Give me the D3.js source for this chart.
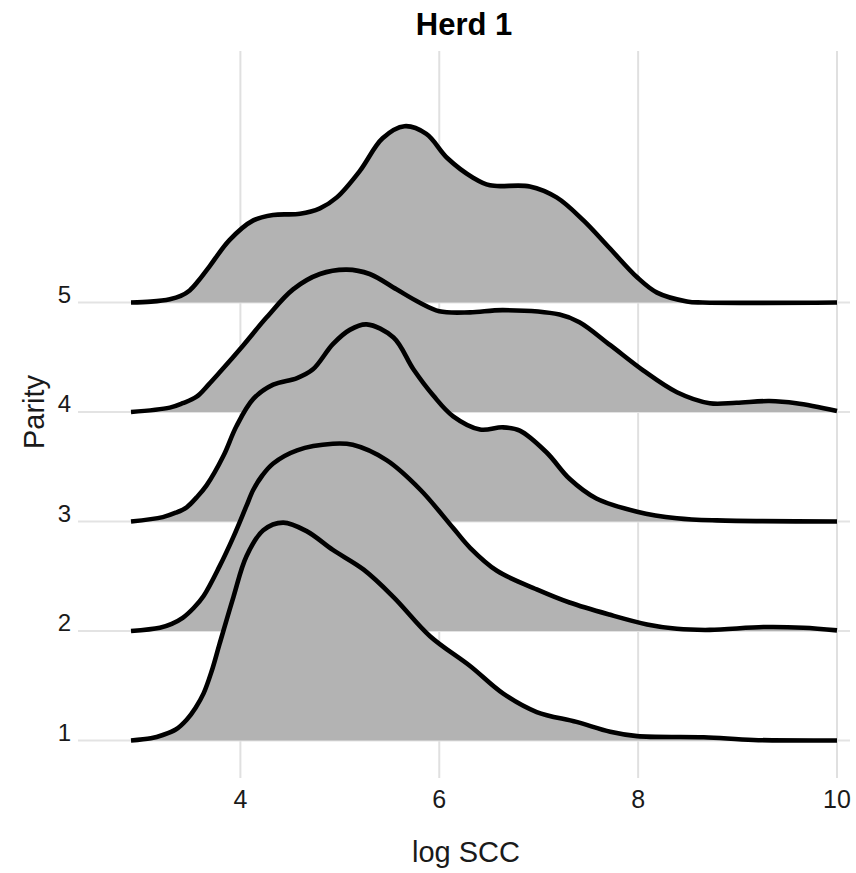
<!DOCTYPE html>
<html>
<head>
  <meta charset="utf-8">
  <title>Herd 1</title>
  <style>
    body { margin: 0; background: #fff; }
    text { font-family: "Liberation Sans", Arial, sans-serif; }
  </style>
</head>
<body>
  <svg id="chart"></svg>

  <script src="https://d3js.org/d3.v7.min.js"></script>
  <script>
    // dữ liệu: log SCC và chiều cao mật độ (đơn vị = khoảng cách giữa hai hàng)
    const parities = ["1", "2", "3", "4", "5"];
    const xTicks = [4, 6, 8, 10];

    const parity1 = [[2.9,0],[3.1,0.02],[3.22,0.05],[3.35,0.1],[3.46,0.19],[3.55,0.3],[3.63,0.43],[3.71,0.63],[3.79,0.88],[3.93,1.31],[4.06,1.68],[4.23,1.92],[4.43,1.99],[4.67,1.91],[4.93,1.74],[5.24,1.56],[5.54,1.31],[5.91,0.95],[6.31,0.68],[6.64,0.43],[6.98,0.26],[7.38,0.17],[7.72,0.08],[7.99,0.04],[8.66,0.03],[9.16,0.005],[10,0]];
    const parity2 = [[2.9,0],[3.19,0.03],[3.31,0.065],[3.42,0.12],[3.53,0.21],[3.63,0.32],[3.79,0.59],[3.93,0.86],[4.06,1.14],[4.13,1.29],[4.22,1.42],[4.33,1.53],[4.57,1.65],[4.93,1.71],[5.13,1.70],[5.47,1.56],[5.81,1.29],[6.14,0.94],[6.31,0.76],[6.58,0.55],[6.98,0.38],[7.31,0.26],[7.71,0.15],[8.09,0.06],[8.39,0.02],[8.72,0.01],[9.26,0.036],[9.66,0.03],[10,0.006]];
    const parity3 = [[2.9,0],[3.22,0.04],[3.35,0.08],[3.46,0.13],[3.56,0.22],[3.66,0.33],[3.83,0.6],[3.96,0.87],[4.13,1.12],[4.33,1.25],[4.57,1.31],[4.73,1.39],[4.93,1.62],[5.1,1.75],[5.27,1.8],[5.54,1.68],[5.74,1.39],[5.94,1.15],[6.14,0.96],[6.41,0.84],[6.64,0.86],[6.81,0.83],[7.08,0.63],[7.31,0.39],[7.58,0.21],[7.99,0.09],[8.39,0.03],[8.79,0.01],[10,0]];
    const parity4 = [[2.9,0],[3.29,0.04],[3.42,0.08],[3.56,0.14],[3.68,0.25],[3.79,0.36],[4.03,0.61],[4.26,0.86],[4.53,1.12],[4.8,1.26],[5.07,1.3],[5.3,1.26],[5.57,1.12],[5.8,1.0],[6.0,0.92],[6.31,0.91],[6.64,0.93],[7.21,0.89],[7.41,0.82],[7.72,0.61],[8.05,0.38],[8.39,0.18],[8.72,0.08],[8.99,0.085],[9.32,0.1],[9.59,0.08],[10,0.01]];
    const parity5 = [[2.9,0],[3.1,0.008],[3.29,0.03],[3.4,0.06],[3.49,0.11],[3.58,0.2],[3.69,0.33],[3.89,0.57],[4.13,0.75],[4.33,0.8],[4.6,0.81],[4.8,0.86],[4.97,0.96],[5.2,1.2],[5.43,1.5],[5.65,1.61],[5.87,1.54],[6.08,1.32],[6.34,1.14],[6.51,1.07],[6.91,1.06],[7.18,0.96],[7.45,0.75],[7.71,0.5],[7.99,0.23],[8.19,0.09],[8.49,0.01],[8.65,0],[10,0]];

    const ridges = [parity1, parity2, parity3, parity4, parity5];

    const width = 856;
    const height = 873;
    const panel = { left: 78, right: 850, top: 51, bottom: 778 };

    const svg = d3.select("#chart")
      .attr("width", width)
      .attr("height", height);

    svg.append("rect").attr("width", width).attr("height", height).attr("fill", "#fff");

    const x = d3.scaleLinear().domain([2.9, 10]).range([131, 837]);
    const y = d3.scalePoint().domain(parities).range([740.5, 302.5]);
    const h = d3.scaleLinear().domain([0, 1]).range([0, y.step()]);

    // lưới dọc
    svg.append("g").selectAll("line")
      .data(xTicks)
      .enter().append("line")
      .attr("x1", d => x(d)).attr("x2", d => x(d))
      .attr("y1", panel.top).attr("y2", panel.bottom)
      .attr("stroke", "#e0e0e0")
      .attr("stroke-width", 2);

    // lưới ngang
    svg.append("g").selectAll("line")
      .data(parities)
      .enter().append("line")
      .attr("x1", panel.left).attr("x2", panel.right)
      .attr("y1", d => y(d)).attr("y2", d => y(d))
      .attr("stroke", "#e3e3e3")
      .attr("stroke-width", 2);

    const curve = d3.curveCatmullRom.alpha(0.5);

    // vẽ từ trên xuống dưới để hàng dưới đè lên hàng trên
    const order = d3.range(parities.length).reverse();

    order.forEach(i => {
      const base = y(parities[i]);
      const area = d3.area()
        .x(d => x(d[0]))
        .y0(base)
        .y1(d => base - h(d[1]))
        .curve(curve);
      const line = d3.line()
        .x(d => x(d[0]))
        .y(d => base - h(d[1]))
        .curve(curve);

      const g = svg.append("g");
      g.append("path")
        .attr("d", area(ridges[i]))
        .attr("fill", "#b3b3b3");
      g.append("path")
        .attr("d", line(ridges[i]))
        .attr("fill", "none")
        .attr("stroke", "#000")
        .attr("stroke-width", 4.6)
        .attr("stroke-linejoin", "round");
    });

    // nhãn trục y
    svg.append("g").selectAll("text")
      .data(parities)
      .enter().append("text")
      .attr("x", 71)
      .attr("y", d => y(d))
      .attr("text-anchor", "end")
      .attr("font-size", 24)
      .attr("fill", "#1a1a1a")
      .text(d => d);

    // nhãn trục x
    svg.append("g").selectAll("text")
      .data(xTicks)
      .enter().append("text")
      .attr("x", d => x(d))
      .attr("y", 808)
      .attr("text-anchor", "middle")
      .attr("font-size", 25)
      .attr("fill", "#1a1a1a")
      .text(d => d);

    svg.append("text")
      .attr("x", 464)
      .attr("y", 35)
      .attr("text-anchor", "middle")
      .attr("font-size", 31)
      .attr("font-weight", "bold")
      .text("Herd 1");

    svg.append("text")
      .attr("x", 466)
      .attr("y", 862)
      .attr("text-anchor", "middle")
      .attr("font-size", 29)
      .attr("fill", "#1a1a1a")
      .text("log SCC");

    svg.append("text")
      .attr("transform", "translate(44,412) rotate(-90)")
      .attr("text-anchor", "middle")
      .attr("font-size", 29)
      .attr("fill", "#1a1a1a")
      .text("Parity");
  </script>
</body>
</html>
